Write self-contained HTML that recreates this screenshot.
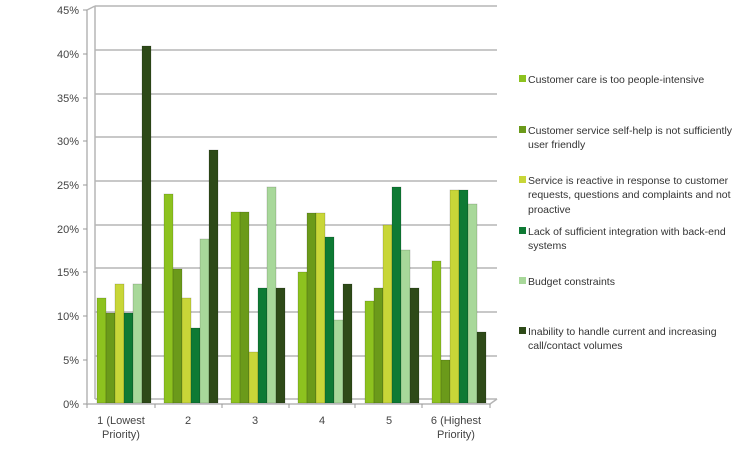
<!DOCTYPE html>
<html><head><meta charset="utf-8"><style>
html,body{margin:0;padding:0;background:#fff;}
svg{display:block;font-family:"Liberation Sans",sans-serif;}
</style></head><body>
<svg width="754" height="456" viewBox="0 0 754 456" xmlns="http://www.w3.org/2000/svg">
<rect width="754" height="456" fill="#fff"/>
<g stroke="#b5b5b5" stroke-width="1.5" fill="none">
<line x1="95" y1="6" x2="497" y2="6"/>
<line x1="95" y1="50" x2="497" y2="50"/>
<line x1="95" y1="94" x2="497" y2="94"/>
<line x1="95" y1="137" x2="497" y2="137"/>
<line x1="95" y1="181" x2="497" y2="181"/>
<line x1="95" y1="225" x2="497" y2="225"/>
<line x1="95" y1="268" x2="497" y2="268"/>
<line x1="95" y1="312" x2="497" y2="312"/>
<line x1="95" y1="356" x2="497" y2="356"/>
<line x1="95" y1="399" x2="497" y2="399"/>
<line x1="87" y1="404" x2="490" y2="404"/>
<line x1="490" y1="404" x2="497" y2="399"/>
<line x1="95" y1="6" x2="95" y2="399"/>
<line x1="87" y1="10" x2="87" y2="404"/>
<line x1="87" y1="10" x2="95" y2="6"/>
</g>
<g stroke="#999" stroke-width="1">
<line x1="83" y1="10" x2="87" y2="10"/><line x1="83" y1="54" x2="87" y2="54"/><line x1="83" y1="98" x2="87" y2="98"/><line x1="83" y1="141" x2="87" y2="141"/><line x1="83" y1="185" x2="87" y2="185"/><line x1="83" y1="229" x2="87" y2="229"/><line x1="83" y1="272" x2="87" y2="272"/><line x1="83" y1="316" x2="87" y2="316"/><line x1="83" y1="360" x2="87" y2="360"/><line x1="83" y1="404" x2="87" y2="404"/>
<line x1="87" y1="404" x2="87" y2="408"/><line x1="155" y1="404" x2="155" y2="408"/><line x1="222" y1="404" x2="222" y2="408"/><line x1="289" y1="404" x2="289" y2="408"/><line x1="355" y1="404" x2="355" y2="408"/><line x1="422" y1="404" x2="422" y2="408"/><line x1="490" y1="404" x2="490" y2="408"/>
</g>
<g font-size="11" fill="#444" text-anchor="end">
<text x="79" y="14">45%</text><text x="79" y="58">40%</text><text x="79" y="102">35%</text><text x="79" y="145">30%</text><text x="79" y="189">25%</text><text x="79" y="233">20%</text><text x="79" y="276">15%</text><text x="79" y="320">10%</text><text x="79" y="364">5%</text><text x="79" y="408">0%</text>
</g>
<g font-size="11" fill="#444" text-anchor="middle">
<text x="121" y="424">1 (Lowest</text><text x="121" y="438">Priority)</text>
<text x="188" y="424">2</text><text x="255" y="424">3</text><text x="322" y="424">4</text><text x="389" y="424">5</text>
<text x="456" y="424">6 (Highest</text><text x="456" y="438">Priority)</text>
</g>
<g stroke="rgba(0,0,0,0.25)" stroke-width="0.6">
<!-- g1 -->
<rect x="97" y="298" width="9" height="105" fill="#8dc21f"/>
<rect x="106" y="313" width="9" height="90" fill="#6b9a1a"/>
<rect x="115" y="284" width="9" height="119" fill="#c8d638"/>
<rect x="124" y="313" width="9" height="90" fill="#0e7a34"/>
<rect x="133" y="284" width="9" height="119" fill="#a8d89a"/>
<rect x="142" y="46" width="9" height="357" fill="#2e4a18"/>
<!-- g2 -->
<rect x="164" y="194" width="9" height="209" fill="#8dc21f"/>
<rect x="173" y="269" width="9" height="134" fill="#6b9a1a"/>
<rect x="182" y="298" width="9" height="105" fill="#c8d638"/>
<rect x="191" y="328" width="9" height="75" fill="#0e7a34"/>
<rect x="200" y="239" width="9" height="164" fill="#a8d89a"/>
<rect x="209" y="150" width="9" height="253" fill="#2e4a18"/>
<!-- g3 -->
<rect x="231" y="212" width="9" height="191" fill="#8dc21f"/>
<rect x="240" y="212" width="9" height="191" fill="#6b9a1a"/>
<rect x="249" y="352" width="9" height="51" fill="#c8d638"/>
<rect x="258" y="288" width="9" height="115" fill="#0e7a34"/>
<rect x="267" y="187" width="9" height="216" fill="#a8d89a"/>
<rect x="276" y="288" width="9" height="115" fill="#2e4a18"/>
<!-- g4 -->
<rect x="298" y="272" width="9" height="131" fill="#8dc21f"/>
<rect x="307" y="213" width="9" height="190" fill="#6b9a1a"/>
<rect x="316" y="213" width="9" height="190" fill="#c8d638"/>
<rect x="325" y="237" width="9" height="166" fill="#0e7a34"/>
<rect x="334" y="320" width="9" height="83" fill="#a8d89a"/>
<rect x="343" y="284" width="9" height="119" fill="#2e4a18"/>
<!-- g5 -->
<rect x="365" y="301" width="9" height="102" fill="#8dc21f"/>
<rect x="374" y="288" width="9" height="115" fill="#6b9a1a"/>
<rect x="383" y="225" width="9" height="178" fill="#c8d638"/>
<rect x="392" y="187" width="9" height="216" fill="#0e7a34"/>
<rect x="401" y="250" width="9" height="153" fill="#a8d89a"/>
<rect x="410" y="288" width="9" height="115" fill="#2e4a18"/>
<!-- g6 -->
<rect x="432" y="261" width="9" height="142" fill="#8dc21f"/>
<rect x="441" y="360" width="9" height="43" fill="#6b9a1a"/>
<rect x="450" y="190" width="9" height="213" fill="#c8d638"/>
<rect x="459" y="190" width="9" height="213" fill="#0e7a34"/>
<rect x="468" y="204" width="9" height="199" fill="#a8d89a"/>
<rect x="477" y="332" width="9" height="71" fill="#2e4a18"/>
</g>
<g font-size="10.5" fill="#333">
<rect x="519" y="75" width="7" height="7" fill="#8dc21f"/>
<text x="528" y="83">Customer care is too people-intensive</text>
<rect x="519" y="126" width="7" height="7" fill="#6b9a1a"/>
<text x="528" y="134">Customer service self-help is not sufficiently</text>
<text x="528" y="148">user friendly</text>
<rect x="519" y="176" width="7" height="7" fill="#c8d638"/>
<text x="528" y="184">Service is reactive in response to customer</text>
<text x="528" y="198">requests, questions and complaints and not</text>
<text x="528" y="213">proactive</text>
<rect x="519" y="227" width="7" height="7" fill="#0e7a34"/>
<text x="528" y="235">Lack of sufficient integration with back-end</text>
<text x="528" y="249">systems</text>
<rect x="519" y="277" width="7" height="7" fill="#a8d89a"/>
<text x="528" y="285">Budget constraints</text>
<rect x="519" y="327" width="7" height="7" fill="#2e4a18"/>
<text x="528" y="335">Inability to handle current and increasing</text>
<text x="528" y="349">call/contact volumes</text>
</g>
</svg>
</body></html>
